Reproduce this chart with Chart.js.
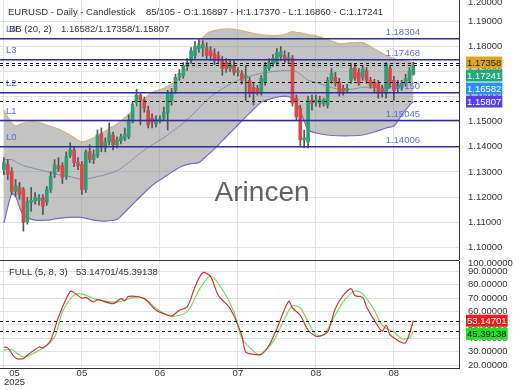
<!DOCTYPE html>
<html>
<head>
<meta charset="utf-8">
<script src="https://cdn.jsdelivr.net/npm/chart.js@4.4.1/dist/chart.umd.min.js"></script>
<style>
  html, body { margin: 0; padding: 0; background: #fff; }
  #wrap { position: relative; width: 520px; height: 390px; overflow: hidden; }
  #priceChart { position: absolute; left: 0; top: 0; }
  #stochChart { position: absolute; left: 0; top: 260px; }
</style>
</head>
<body>
<div id="wrap">
  <canvas id="priceChart" width="520" height="260"></canvas>
  <canvas id="stochChart" width="520" height="130"></canvas>
</div>
<script>
const FONT = '9.5px "Liberation Sans", Arial, sans-serif';
const TEXT = '#333';

// x axis (candle index)
const xMin = -1, xMax = 116.7;
const tickIndex = [0, 20, 40, 60, 80, 100];
const tickLabels = [['  05', '2025'], '05', '06', '07', '08', '08'];

// price candles
const opens = [1.1309,1.1329,1.1301,1.1222,1.1238,1.1230,1.1100,1.1179,1.1183,1.1187,
  1.1199,1.1179,1.1230,1.1289,1.1325,1.1325,1.1282,1.1365,1.1388,1.1337,
  1.1329,1.1230,1.1380,1.1349,1.1365,1.1451,1.1396,1.1420,1.1447,1.1408,
  1.1424,1.1432,1.1440,1.1503,1.1574,1.1606,1.1586,1.1546,1.1515,1.1491,
  1.1503,1.1515,1.1534,1.1586,1.1625,1.1677,1.1685,1.1720,1.1744,1.1764,
  1.1791,1.1795,1.1795,1.1783,1.1772,1.1764,1.1744,1.1736,1.1712,1.1724,
  1.1697,1.1693,1.1673,1.1665,1.1637,1.1633,1.1617,1.1657,1.1712,1.1732,
  1.1736,1.1760,1.1764,1.1752,1.1752,1.1594,1.1554,1.1428,1.1420,1.1586,
  1.1578,1.1574,1.1574,1.1566,1.1665,1.1677,1.1657,1.1633,1.1625,1.1665,
  1.1716,1.1697,1.1677,1.1704,1.1665,1.1657,1.1653,1.1633,1.1613,1.1712,
  1.1665,1.1633,1.1641,1.1653,1.1665,1.16897];
const highs = [1.1357,1.1349,1.1317,1.1270,1.1258,1.1238,1.1199,1.1238,1.1218,1.1210,
  1.1210,1.1242,1.1301,1.1349,1.1357,1.1337,1.1380,1.1416,1.1400,1.1357,
  1.1341,1.1388,1.1408,1.1388,1.1467,1.1475,1.1436,1.1495,1.1459,1.1440,
  1.1451,1.1475,1.1527,1.1578,1.1629,1.1617,1.1598,1.1562,1.1531,1.1523,
  1.1523,1.1558,1.1625,1.1633,1.1689,1.1708,1.1736,1.1752,1.1795,1.1819,
  1.1827,1.1823,1.1815,1.1799,1.1791,1.1779,1.1760,1.1752,1.1744,1.1744,
  1.1716,1.1704,1.1724,1.1677,1.1653,1.1645,1.1685,1.1736,1.1752,1.1768,
  1.1791,1.1799,1.1783,1.1776,1.1764,1.1606,1.1566,1.1467,1.1602,1.1606,
  1.1606,1.1602,1.1594,1.1677,1.1712,1.1697,1.1673,1.1645,1.1649,1.1732,
  1.1732,1.1712,1.1724,1.1716,1.1677,1.1669,1.1665,1.1645,1.1736,1.1724,
  1.1681,1.1665,1.1665,1.1689,1.1716,1.17370];
const lows = [1.1289,1.1270,1.1210,1.1203,1.1191,1.1064,1.1092,1.1143,1.1171,1.1167,
  1.1131,1.1167,1.1218,1.1278,1.1301,1.1254,1.1270,1.1357,1.1321,1.1309,
  1.1210,1.1218,1.1337,1.1333,1.1357,1.1380,1.1380,1.1408,1.1388,1.1396,
  1.1412,1.1424,1.1432,1.1495,1.1562,1.1487,1.1538,1.1475,1.1475,1.1479,
  1.1495,1.1507,1.1467,1.1566,1.1613,1.1665,1.1673,1.1704,1.1732,1.1752,
  1.1776,1.1760,1.1752,1.1744,1.1728,1.1736,1.1685,1.1697,1.1700,1.1685,
  1.1681,1.1649,1.1586,1.1598,1.1566,1.1606,1.1606,1.1645,1.1704,1.1720,
  1.1728,1.1744,1.1736,1.1732,1.1562,1.1507,1.1400,1.1396,1.1396,1.1546,
  1.1562,1.1558,1.1562,1.1554,1.1653,1.1641,1.1602,1.1606,1.1617,1.1653,
  1.1665,1.1645,1.1665,1.1653,1.1633,1.1617,1.1594,1.1598,1.1594,1.1637,
  1.1586,1.1617,1.1625,1.1641,1.1657,1.16860];
const closes = [1.1337,1.1289,1.1222,1.1246,1.1210,1.1100,1.1183,1.1187,1.1199,1.1195,
  1.1163,1.1230,1.1282,1.1329,1.1313,1.1278,1.1361,1.1388,1.1337,1.1325,
  1.1230,1.1380,1.1349,1.1369,1.1447,1.1404,1.1420,1.1455,1.1408,1.1428,
  1.1440,1.1451,1.1507,1.1570,1.1606,1.1586,1.1554,1.1487,1.1499,1.1507,
  1.1511,1.1538,1.1613,1.1617,1.1677,1.1693,1.1724,1.1736,1.1783,1.1799,
  1.1803,1.1807,1.1764,1.1764,1.1744,1.1752,1.1712,1.1712,1.1728,1.1697,
  1.1704,1.1665,1.1685,1.1613,1.1613,1.1621,1.1673,1.1724,1.1736,1.1752,
  1.1776,1.1779,1.1752,1.1756,1.1574,1.1519,1.1428,1.1436,1.1586,1.1574,
  1.1586,1.1586,1.1586,1.1665,1.1693,1.1653,1.1613,1.1621,1.1633,1.1712,
  1.1673,1.1653,1.1712,1.1665,1.1645,1.1637,1.1613,1.1621,1.1732,1.1653,
  1.1625,1.1641,1.1653,1.1673,1.1704,1.17241];

// bollinger bands (20, 2), read at these candle indexes
const bbIndex = [0,2,3,5,8,11,14,17,20,23,26,29,32,35,38,41,44,46,48,50,52,54,57,60,63,66,69,72,74,75,76,77,78,80,83,86,89,92,95,98,100,102,104,105];
const bbUpper = [1.1546,1.1495,1.1483,1.1495,1.1499,1.1487,1.1471,1.1447,1.1420,1.1436,
  1.1463,1.1491,1.1530,1.1578,1.1617,1.1633,1.1661,1.1693,1.1748,1.1815,
  1.1851,1.1863,1.1870,1.1866,1.1855,1.1847,1.1843,1.1847,1.1859,1.1855,
  1.1855,1.1851,1.1847,1.1843,1.1827,1.1811,1.1815,1.1815,1.1791,1.1764,
  1.1752,1.1744,1.1740,1.17358];
const bbMid = [1.1349,1.1349,1.1341,1.1325,1.1313,1.1301,1.1289,1.1281,1.1270,1.1278,
  1.1289,1.1305,1.1337,1.1376,1.1408,1.1436,1.1471,1.1495,1.1523,1.1554,
  1.1586,1.1610,1.1641,1.1665,1.1681,1.1693,1.1700,1.1704,1.1704,1.1700,
  1.1689,1.1677,1.1665,1.1657,1.1641,1.1629,1.1629,1.1637,1.1637,1.1637,
  1.1641,1.1649,1.1657,1.16582];
const bbLower = [1.1096,1.1214,1.1202,1.1127,1.1108,1.1108,1.1115,1.1119,1.1119,1.1108,
  1.1104,1.1111,1.1155,1.1202,1.1246,1.1278,1.1309,1.1325,1.1333,1.1337,
  1.1364,1.1392,1.1440,1.1487,1.1534,1.1578,1.1594,1.1602,1.1594,1.1574,
  1.1542,1.1503,1.1467,1.1455,1.1447,1.1444,1.1444,1.1447,1.1459,1.1475,
  1.1483,1.1526,1.1566,1.15807];

// levels
const levels = [1.14006, 1.15045, 1.16150, 1.17468, 1.18304];
const levelNames = ['L0', 'L1', 'L2', 'L3', 'L4'];

const priceTicks = [1.10, 1.11, 1.12, 1.13, 1.14, 1.15, 1.16, 1.17, 1.18, 1.19];
const priceMin = 1.0949, priceMax = 1.1985;

// stochastic full (5, 8, 3)
const kIndex = [0,1,3,5,6,9,10,12,14,17,18,20,21,23,24,28,30,31,32,36,39,42,43,45,47,49,51,53,55,58,61,62,64,66,68,70,73,74,76,78,80,81,83,85,87,89,90,92,93,95,97,98,99,100,102,103,104,105];
const kValues = [33.5,32.8,25.3,24.8,27.3,33.5,32.8,38.5,55.9,75,74,70,70.5,67.1,68.8,65.9,69.6,68,71.3,69.6,
  60.9,57.2,56.5,60.9,63.4,78.3,89,86,72,62.2,42.2,29.8,28,28,34.8,47.2,67.6,62.6,57.2,46,
  41.5,41.5,44.7,62.2,72,77.1,72,70.5,63.4,53.4,45.2,49.7,42.7,40.4,36.8,36.8,43.5,53.14701];
const dIndex = [0,2,5,10,13,15,18,20,24,29,33,36,39,43,47,50,53,56,59,61,65,66,69,72,74,76,78,80,82,84,87,90,92,95,97,100,102,104,105];
const dValues = [31.3,31.6,26.1,32.8,41,59.6,72.2,73,68.8,67,70.4,69.6,62.4,56.5,59.9,75.8,86.5,76.5,59.6,40,
  28,28,37.3,54.7,64.1,62.6,52.2,42.7,42.7,52.2,67.1,75.3,73.1,60.9,49.7,44.7,39.8,40.4,45.39138];

const stochTicks = [20, 30, 40, 50, 60, 70, 80, 90];
const stochMin = 17.8, stochMax = 97.7;

const last = closes.length - 1;
const bbLast = bbIndex.length - 1;

function xy(idx, vals) {
    return idx.map((x, i) => ({ x: x, y: vals[i] }));
}

// drop the automatic label padding so the plot fills the canvas
function noPad(s) {
    s.paddingTop = 0;
    s.paddingBottom = 0;
    s.paddingLeft = 0;
    s.paddingRight = 0;
}

function drawBadges(chart, items) {
    const { ctx, chartArea: a, scales: { y } } = chart;
    ctx.font = FONT;
    ctx.textBaseline = 'middle';
    ctx.textAlign = 'left';
    let prev = -Infinity;
    items.forEach(b => {
        const cy = Math.max(y.getPixelForValue(b.value), prev + 13);
        prev = cy;
        const w = ctx.measureText(b.text).width + 2;
        ctx.fillStyle = b.bg;
        ctx.fillRect(a.right + 7, cy - 6, w, 12);
        ctx.fillStyle = b.fg;
        ctx.fillText(b.text, a.right + 8, cy + 0.5);
    });
}

function hline(ctx, a, py, color, width, dash) {
    ctx.save();
    ctx.strokeStyle = color;
    ctx.lineWidth = width;
    ctx.setLineDash(dash || []);
    ctx.beginPath();
    ctx.moveTo(a.left, py);
    ctx.lineTo(a.right, py);
    ctx.stroke();
    ctx.restore();
}

// clamped top label (value above the plot)
function topLabel(chart, value, text) {
    const { ctx, chartArea: a, scales: { y } } = chart;
    const py = Math.max(y.getPixelForValue(value), a.top + 2.5);
    ctx.font = FONT;
    ctx.fillStyle = TEXT;
    ctx.textBaseline = 'middle';
    ctx.textAlign = 'left';
    ctx.fillText(text, a.right + 9, py);
}

const priceOverlay = {
    id: 'priceOverlay',
    afterDatasetsDraw(chart) {
        const { ctx, chartArea: a, scales: { y } } = chart;
        // level lines
        levels.forEach((lv, i) => {
            const py = y.getPixelForValue(lv);
            hline(ctx, a, py, '#2d2d9c', 1.5);
            ctx.font = FONT;
            ctx.textBaseline = 'middle';
            ctx.fillStyle = '#5b6fd2';
            ctx.textAlign = 'left';
            ctx.fillText(levelNames[i], a.left + 6, py - 9);
            ctx.textAlign = 'right';
            ctx.fillText(lv.toFixed(5), a.right - 39, py - 6);
        });
        // dashed value lines
        [bbUpper[bbLast], closes[last], bbMid[bbLast], bbLower[bbLast]].forEach(v => {
            hline(ctx, a, Math.round(y.getPixelForValue(v)) + 0.5, '#111', 1, [3, 3]);
        });
        // watermark
        ctx.save();
        ctx.font = '28px "Liberation Sans", Arial, sans-serif';
        ctx.fillStyle = 'rgba(70,70,70,0.85)';
        ctx.textAlign = 'center';
        ctx.textBaseline = 'middle';
        ctx.fillText('Arincen', a.left + a.width * 0.571, a.top + a.height * 0.745);
        ctx.restore();
    },
    afterDraw(chart) {
        const { ctx } = chart;
        ctx.save();
        ctx.font = FONT;
        ctx.textBaseline = 'middle';
        ctx.textAlign = 'left';
        ctx.fillStyle = TEXT;
        ctx.fillText('EURUSD - Daily - Candlestick', 8, 12);
        ctx.fillText('85/105 - O:' + opens[last].toFixed(5) + ' - H:' + highs[last].toFixed(5) +
            ' - L:' + lows[last].toFixed(5) + ' - C:' + closes[last].toFixed(5), 146, 12);
        ctx.fillText('BB (20, 2)', 9, 29);
        ctx.fillText(bbMid[bbLast].toFixed(5) + '/' + bbUpper[bbLast].toFixed(5) + '/' + bbLower[bbLast].toFixed(5), 61, 29);
        topLabel(chart, 1.20, '1.20000');
        drawBadges(chart, [
            { value: bbUpper[bbLast], text: bbUpper[bbLast].toFixed(5), bg: '#dca523', fg: '#222' },
            { value: closes[last], text: closes[last].toFixed(5), bg: '#1faa78', fg: '#fff' },
            { value: bbMid[bbLast], text: bbMid[bbLast].toFixed(5), bg: '#2b8ff0', fg: '#fff' },
            { value: bbLower[bbLast], text: bbLower[bbLast].toFixed(5), bg: '#5a3ee2', fg: '#fff' }
        ]);
        ctx.restore();
    }
};

const stochOverlay = {
    id: 'stochOverlay',
    afterDatasetsDraw(chart) {
        const { ctx, chartArea: a, scales: { y } } = chart;
        hline(ctx, a, Math.round(y.getPixelForValue(kValues[kValues.length - 1])) + 0.5, '#111', 1, [3, 3]);
        hline(ctx, a, Math.round(y.getPixelForValue(dValues[dValues.length - 1])) + 0.5, '#111', 1, [3, 3]);
    },
    afterDraw(chart) {
        const { ctx, chartArea: a } = chart;
        ctx.save();
        // panel top border
        ctx.strokeStyle = '#333';
        ctx.lineWidth = 1;
        ctx.beginPath();
        ctx.moveTo(0, a.top - 0.5);
        ctx.lineTo(a.right, a.top - 0.5);
        ctx.stroke();
        ctx.font = FONT;
        ctx.fillStyle = TEXT;
        ctx.textBaseline = 'middle';
        ctx.textAlign = 'left';
        const k = kValues[kValues.length - 1], d = dValues[dValues.length - 1];
        ctx.fillText('FULL (5, 8, 3)', 9, 12);
        ctx.fillText(k.toFixed(5) + '/' + d.toFixed(5), 76, 12);
        topLabel(chart, 100, '100.00000');
        drawBadges(chart, [
            { value: k, text: k.toFixed(5), bg: '#ee1d1d', fg: '#fff' },
            { value: d, text: d.toFixed(5), bg: '#22e022', fg: '#111' }
        ]);
        ctx.restore();
    }
};

const upColor = '#2f9e72';
const downColor = '#d94848';
const candleColors = opens.map((o, i) => closes[i] >= o ? upColor : downColor);

new Chart(document.getElementById('priceChart'), {
    type: 'bar',
    data: {
        datasets: [
            {
                label: 'body',
                data: opens.map((o, i) => ({ x: i, y: [o, closes[i]] })),
                backgroundColor: candleColors,
                barThickness: 3,
                minBarLength: 1,
                grouped: false,
                order: 0
            },
            {
                label: 'wick',
                data: opens.map((o, i) => ({ x: i, y: [lows[i], highs[i]] })),
                backgroundColor: '#555',
                barThickness: 1,
                grouped: false,
                order: 1
            },
            {
                type: 'line',
                label: 'upper',
                data: xy(bbIndex, bbUpper),
                borderColor: '#d6b57c',
                borderWidth: 1.2,
                backgroundColor: 'rgba(135,135,135,0.5)',
                fill: '+2',
                pointRadius: 0,
                tension: 0.25,
                order: 2
            },
            {
                type: 'line',
                label: 'mid',
                data: xy(bbIndex, bbMid),
                borderColor: '#7b97c6',
                borderWidth: 1,
                pointRadius: 0,
                tension: 0.25,
                fill: false,
                order: 2
            },
            {
                type: 'line',
                label: 'lower',
                data: xy(bbIndex, bbLower),
                borderColor: '#6b66d2',
                borderWidth: 1.2,
                pointRadius: 0,
                tension: 0.25,
                fill: false,
                order: 2
            }
        ]
    },
    options: {
        responsive: false,
        animation: false,
        layout: { padding: 0 },
        plugins: { legend: { display: false }, tooltip: { enabled: false } },
        scales: {
            x: {
                type: 'linear',
                offset: false,
                min: xMin,
                max: xMax,
                afterBuildTicks: s => { s.ticks = tickIndex.map(v => ({ value: v })); },
                afterFit: s => { s.height = 0; noPad(s); },
                ticks: { display: false },
                grid: { color: '#e2e2e2', drawTicks: false, offset: false },
                border: { display: false }
            },
            y: {
                position: 'right',
                min: priceMin,
                max: priceMax,
                afterBuildTicks: s => { s.ticks = priceTicks.map(v => ({ value: v })); },
                afterFit: s => { s.width = 61; noPad(s); },
                ticks: {
                    color: TEXT,
                    font: { family: '"Liberation Sans", Arial, sans-serif', size: 9.5 },
                    padding: 9,
                    autoSkip: false,
                    callback: v => v.toFixed(5)
                },
                grid: { color: '#e2e2e2', drawTicks: false },
                border: { display: true, color: '#333', width: 1 }
            }
        }
    },
    plugins: [priceOverlay]
});

new Chart(document.getElementById('stochChart'), {
    type: 'line',
    data: {
        datasets: [
            {
                label: '%K',
                data: xy(kIndex, kValues),
                borderColor: '#cf3434',
                borderWidth: 1.2,
                pointRadius: 0,
                tension: 0.3,
                order: 0
            },
            {
                label: '%D',
                data: xy(dIndex, dValues),
                borderColor: '#6ee060',
                borderWidth: 1.2,
                pointRadius: 0,
                tension: 0.3,
                order: 1
            }
        ]
    },
    options: {
        responsive: false,
        animation: false,
        layout: { padding: { top: 1 } },
        plugins: { legend: { display: false }, tooltip: { enabled: false } },
        scales: {
            x: {
                type: 'linear',
                min: xMin,
                max: xMax,
                afterBuildTicks: s => { s.ticks = tickIndex.concat([xMax]).map(v => ({ value: v })); },
                afterFit: s => { s.height = 22; noPad(s); },
                ticks: {
                    color: TEXT,
                    font: { family: '"Liberation Sans", Arial, sans-serif', size: 9.5, lineHeight: 0.95 },
                    padding: 1,
                    align: 'inner',
                    autoSkip: false,
                    maxRotation: 0,
                    callback: (v, i) => i < tickLabels.length ? tickLabels[i] : ''
                },
                grid: { color: '#e2e2e2', drawTicks: false },
                border: { display: true, color: '#333', width: 1 }
            },
            y: {
                position: 'right',
                min: stochMin,
                max: stochMax,
                afterBuildTicks: s => { s.ticks = stochTicks.map(v => ({ value: v })); },
                afterFit: s => { s.width = 61; noPad(s); },
                ticks: {
                    color: TEXT,
                    font: { family: '"Liberation Sans", Arial, sans-serif', size: 9.5 },
                    padding: 9,
                    autoSkip: false,
                    callback: v => v.toFixed(5)
                },
                grid: { color: '#e2e2e2', drawTicks: false },
                border: { display: true, color: '#333', width: 1 }
            }
        }
    },
    plugins: [stochOverlay]
});
</script>
</body>
</html>
